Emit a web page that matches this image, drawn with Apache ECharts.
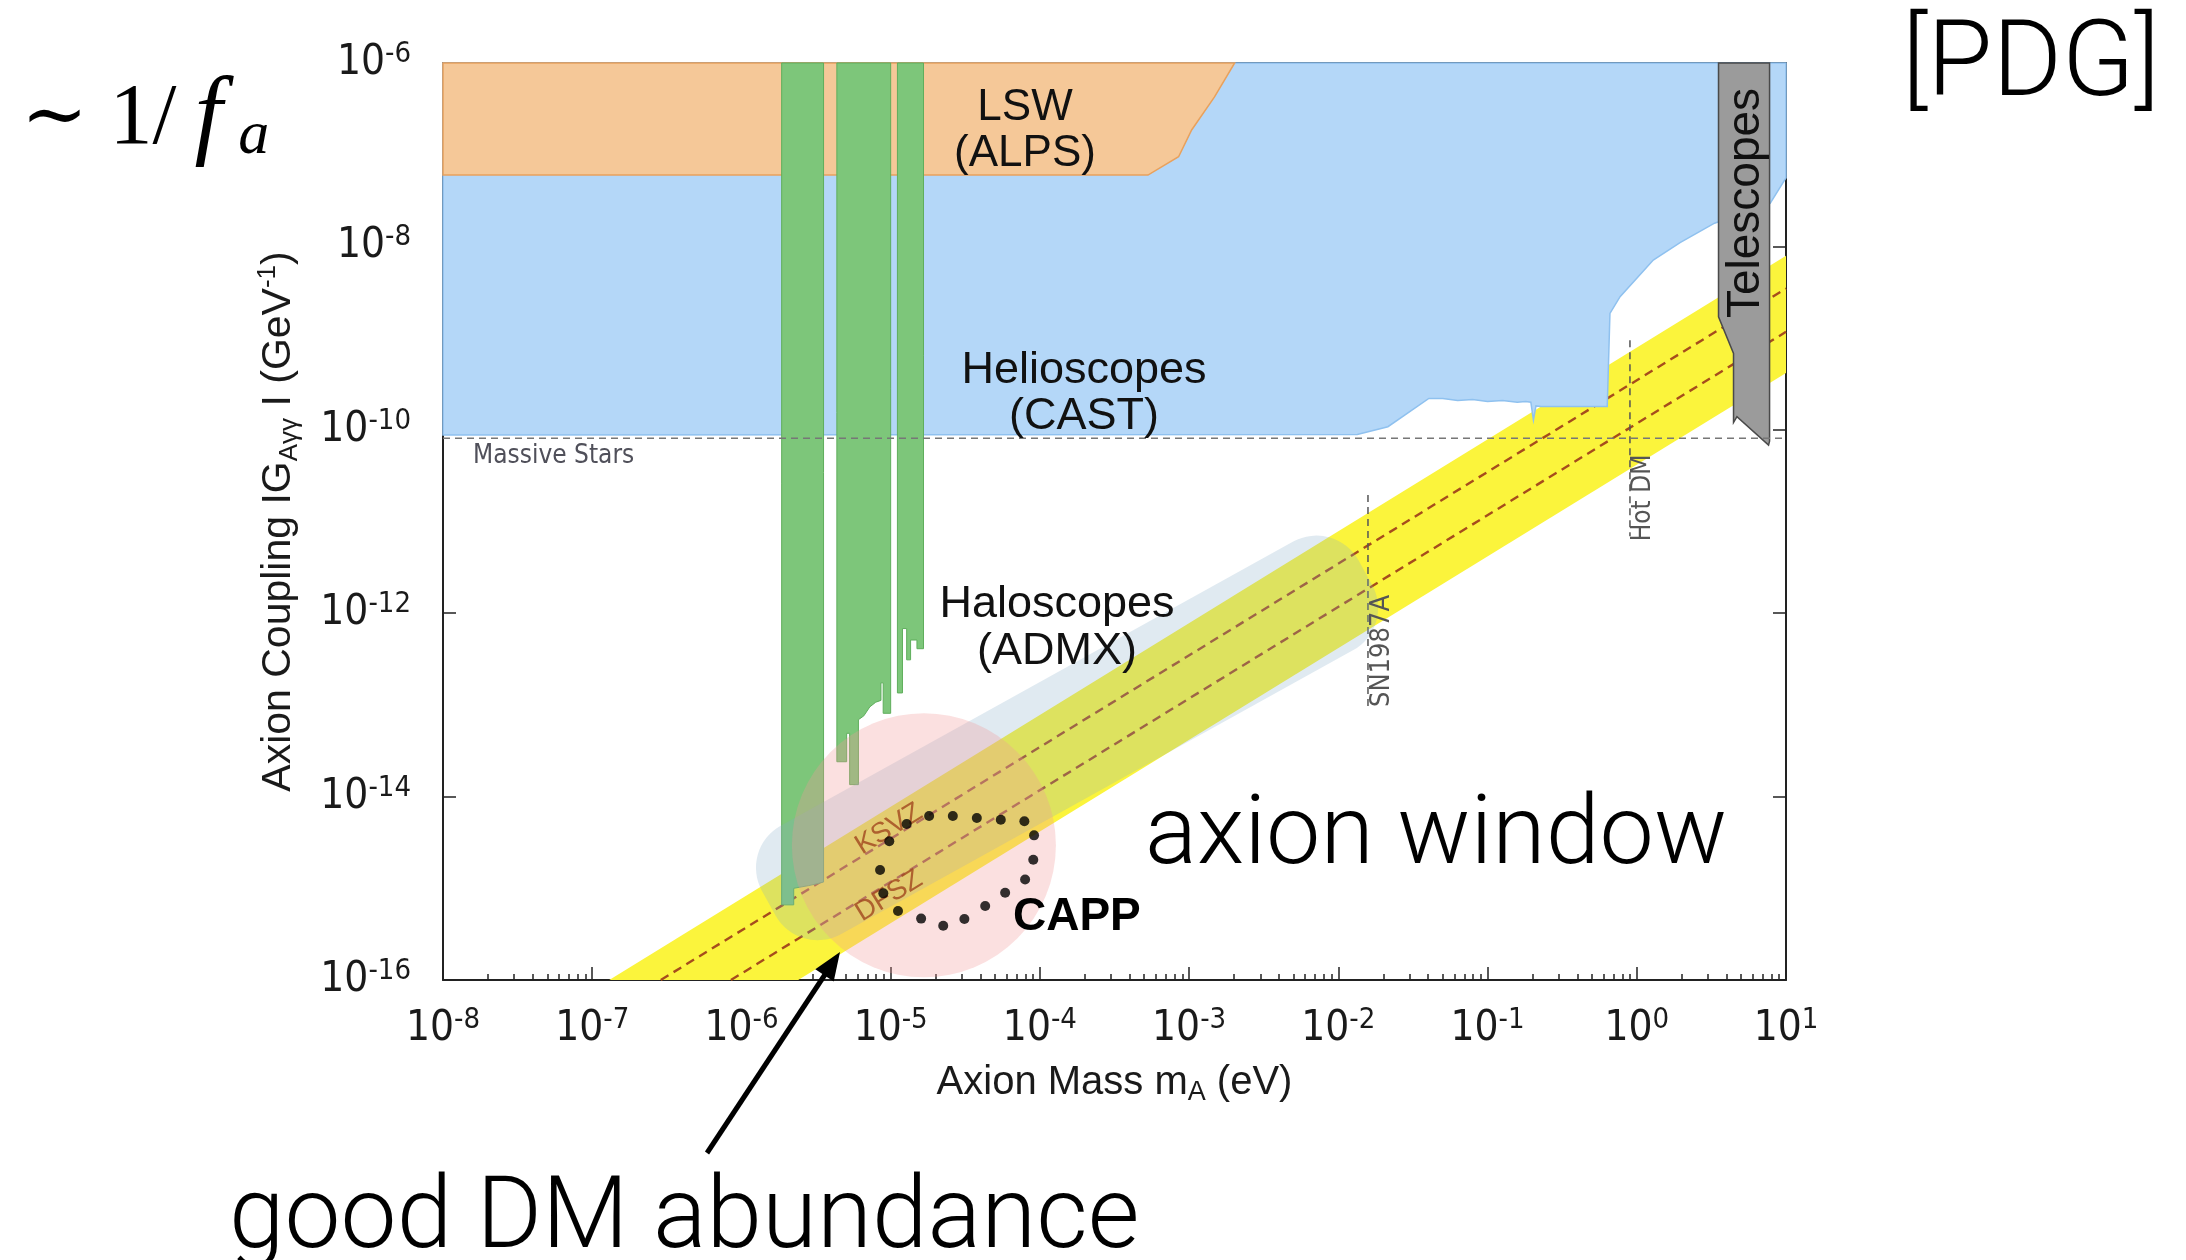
<!DOCTYPE html>
<html>
<head>
<meta charset="utf-8">
<script src="https://cdn.jsdelivr.net/npm/echarts@6/dist/echarts.min.js"></script>
<style>
html,body{margin:0;padding:0;background:#ffffff;}
#chart{width:2186px;height:1260px;}
</style>
</head>
<body>
<div id="chart"></div>
<script>
// ---------- data (axion mass in eV, coupling in GeV^-1) ----------
const xTickExponents = [-8, -7, -6, -5, -4, -3, -2, -1, 0, 1];
const yTickExponents = [-16, -14, -12, -10, -8, -6];

const lswRegion = [[1e-8,1e-6],[1e-8,6.0e-8],[5.3e-4,6.0e-8],[8.5e-4,9.5e-8],[1.04e-3,1.86e-7],[1.48e-3,4.27e-7],[2.02e-3,1e-6]];

const helioscopeRegion = [[1e-8,1e-6],[1e-8,8.8e-11],[0.0134,8.9e-11],[0.0215,1.08e-10],[0.0404,2.2e-10],[0.0501,2.19e-10],[0.0631,2.09e-10],[0.0794,2.14e-10],[0.1,2.04e-10],[0.126,2.09e-10],[0.158,2.0e-10],[0.18,2.03e-10],[0.195,2.0e-10],[0.203,1.28e-10],[0.211,1.82e-10],[0.228,1.79e-10],[0.634,1.79e-10],[0.661,1.86e-9],[0.773,2.83e-9],[1.29,7.1e-9],[1.95,1.1e-8],[3.32,1.79e-8],[7.83,2.95e-8],[10,5.6e-8],[10,1e-6]];

const haloscopeA = [[1.86e-6,1e-6],[1.86e-6,6.6e-16],[2.24e-6,6.6e-16],[2.24e-6,1.0e-15],[2.82e-6,1.07e-15],[3.2e-6,1.12e-15],[3.55e-6,1.17e-15],[3.55e-6,1e-6]];
const haloscopeB = [[4.36e-6,1e-6],[4.36e-6,2.4e-14],[5.07e-6,2.4e-14],[5.07e-6,4.9e-14],[5.31e-6,4.9e-14],[5.31e-6,1.35e-14],[6.08e-6,1.35e-14],[6.08e-6,6.9e-14],[6.61e-6,7.6e-14],[7.24e-6,9.5e-14],[7.94e-6,1.07e-13],[8.61e-6,1.12e-13],[8.61e-6,1.74e-13],[8.91e-6,1.74e-13],[8.91e-6,8.1e-14],[1.0e-5,8.1e-14],[1.0e-5,1e-6]];
const haloscopeC = [[1.11e-5,1e-6],[1.11e-5,1.35e-13],[1.2e-5,1.35e-13],[1.2e-5,6.8e-13],[1.28e-5,6.8e-13],[1.28e-5,3.1e-13],[1.36e-5,3.1e-13],[1.36e-5,5.1e-13],[1.5e-5,5.1e-13],[1.5e-5,4.1e-13],[1.66e-5,4.1e-13],[1.66e-5,1e-6]];

const telescopeRegion = [[3.53,1e-6],[3.53,1.71e-9],[4.45,6.8e-10],[4.45,1.2e-10],[4.69,1.39e-10],[7.64,6.8e-11],[7.76,7.5e-11],[7.76,1e-6]];

const axionBand = [[1.3e-7,1e-16],[10,7.9e-9],[10,4.17e-10],[2.4e-6,1e-16]];
const ksvzLine = [[2.88e-7,1e-16],[10,3.47e-9]];
const dfszLine = [[8.5e-7,1e-16],[10,1.17e-9]];

const massiveStarsLine = [[1e-8,8.07e-11],[10,8.07e-11]];
const sn1987aLine = [[0.0158,1.95e-11],[0.0158,8.8e-14]];
const hotDmLine = [[0.9,9.5e-10],[0.9,6.9e-12]];

const axionWindowCenter = [[1.52e-4,4.37e-14]];
const dmAbundanceCenter = [[1.67e-5,2.95e-15]];
const cappOutline = [[1.28e-5,5.02e-15],[1.81e-5,6.14e-15],[2.61e-5,6.14e-15],[3.78e-5,5.85e-15],[5.47e-5,5.6e-15],[7.87e-5,5.38e-15],[9.14e-5,3.78e-15],[9.03e-5,2.05e-15],[7.96e-5,1.25e-15],[5.85e-5,8.95e-16],[4.3e-5,6.41e-16],[3.12e-5,4.62e-16],[2.25e-5,3.91e-16],[1.6e-5,4.67e-16],[1.12e-5,5.65e-16],[8.93e-6,8.81e-16],[8.49e-6,1.58e-15],[9.79e-6,3.26e-15]];

// ---------- helpers ----------
const SANS = '"Liberation Sans", Arial, Helvetica, sans-serif';
const NARROW = '"Liberation Sans Narrow", "Arial Narrow", "DejaVu Sans Condensed", "Liberation Sans", sans-serif';
const LIGHT = 'Roboto, "Open Sans", Lato, sans-serif';
const SERIF = '"Liberation Serif", "DejaVu Serif", serif';
const toLog = pts => pts.map(p => [Math.log10(p[0]), Math.log10(p[1])]);

function polySeries(name, pts, style, z) {
  const data = toLog(pts);
  return {
    type: 'custom', name: name, z: z, silent: true, animation: false,
    data: data, encode: {x: 0, y: 1},
    renderItem: function (params, api) {
      if (params.dataIndex !== 0) return null;
      return {type: 'polygon', shape: {points: data.map(d => api.coord(d))}, style: style};
    }
  };
}
function lineSeries(name, pts, style, z) {
  const data = toLog(pts);
  return {
    type: 'custom', name: name, z: z, silent: true, animation: false,
    data: data, encode: {x: 0, y: 1},
    renderItem: function (params, api) {
      if (params.dataIndex !== 0) return null;
      return {type: 'polyline', shape: {points: data.map(d => api.coord(d))}, style: Object.assign({fill: null}, style)};
    }
  };
}

const minorX = [];
for (let n = -8; n < 1; n++) for (let k = 2; k <= 9; k++) minorX.push(n + Math.log10(k));

const labelRich = {
  b: {fontFamily: NARROW, fontSize: 42, color: '#1a1a1a', lineHeight: 46},
  s: {fontFamily: NARROW, fontSize: 29, color: '#1a1a1a', lineHeight: 16, verticalAlign: 'top'}
};
const tickStyle = {color: '#222', width: 1.5};
const lineStyle = {color: '#222', width: 2};

const green = {fill: '#7dc67a', stroke: '#5fae5c', lineWidth: 1};
const brownDash = {stroke: '#a64c1c', lineWidth: 2.4, lineDash: [9, 6]};

const series = [
  polySeries('Axion models', axionBand, {fill: '#fbf43c'}, 1),
  lineSeries('KSVZ', ksvzLine, brownDash, 2),
  lineSeries('DFSZ', dfszLine, brownDash, 2),
  polySeries('Helioscopes (CAST)', helioscopeRegion, {fill: '#b4d7f8', stroke: '#8fc1ef', lineWidth: 1.5}, 3),
  polySeries('LSW (ALPS)', lswRegion, {fill: '#f5c898', stroke: '#e9a15c', lineWidth: 1.5}, 4),
  polySeries('Haloscope 1', haloscopeA, green, 5),
  polySeries('Haloscope 2', haloscopeB, green, 5),
  polySeries('Haloscope 3', haloscopeC, green, 5),
  polySeries('Telescopes', telescopeRegion, {fill: '#9b9b9b', stroke: '#4a4a4a', lineWidth: 1.5}, 6),
  lineSeries('SN1987A', sn1987aLine, {stroke: '#555', lineWidth: 1.5, lineDash: [7, 5]}, 7),
  lineSeries('Hot DM', hotDmLine, {stroke: '#555', lineWidth: 1.5, lineDash: [7, 5]}, 7),
  lineSeries('Massive Stars', massiveStarsLine, {stroke: '#777', lineWidth: 1.5, lineDash: [7, 5]}, 7),
  {
    type: 'custom', name: 'axion window', z: 20, silent: true, animation: false,
    data: toLog(axionWindowCenter), encode: {x: 0, y: 1},
    renderItem: function (params, api) {
      const p = api.coord([api.value(0), api.value(1)]);
      return {type: 'rect', x: p[0], y: p[1], rotation: 29 * Math.PI / 180,
        shape: {x: -341, y: -62, width: 682, height: 124, r: 48},
        style: {fill: 'rgba(130,170,200,0.25)'}};
    }
  },
  {
    type: 'custom', name: 'good DM abundance', z: 21, silent: true, animation: false,
    data: toLog(dmAbundanceCenter), encode: {x: 0, y: 1},
    renderItem: function (params, api) {
      const p = api.coord([api.value(0), api.value(1)]);
      return {type: 'circle', shape: {cx: p[0], cy: p[1], r: 132}, style: {fill: 'rgba(242,152,152,0.3)'}};
    }
  },
  {
    type: 'scatter', name: 'CAPP', z: 30, silent: true, animation: false,
    data: toLog(cappOutline), symbol: 'circle', symbolSize: 10,
    itemStyle: {color: '#000'}
  }
];

const xBase = {type: 'value', min: -8, max: 1, splitLine: {show: false}};
const yBase = {type: 'value', min: -16, max: -6, interval: 2, splitLine: {show: false}};

const option = {
  animation: false,
  backgroundColor: '#ffffff',
  grid: {left: 443, right: 400, top: 63, bottom: 280, containLabel: false},
  xAxis: [
    Object.assign({}, xBase, {
      position: 'bottom', interval: 1,
      axisLine: {show: true, onZero: false, lineStyle: lineStyle},
      axisTick: {inside: true, length: 13, lineStyle: tickStyle},
      axisLabel: {margin: 26, showMinLabel: true, showMaxLabel: true, hideOverlap: false,
        formatter: v => '{b|10}{s|' + v + '}', rich: labelRich},
      name: '{t|Axion Mass m}{sub|A}{t| (eV)}', nameLocation: 'middle', nameGap: 80,
      nameTextStyle: {rich: {
        t: {fontFamily: SANS, fontSize: 40, color: '#1a1a1a', lineHeight: 46},
        sub: {fontFamily: SANS, fontSize: 27, color: '#1a1a1a', lineHeight: 20, verticalAlign: 'bottom'}
      }}
    }),
    Object.assign({}, xBase, {
      position: 'bottom',
      axisLine: {show: false, onZero: false},
      axisTick: {inside: true, length: 6, customValues: minorX, lineStyle: tickStyle},
      axisLabel: {show: false}
    }),
    Object.assign({}, xBase, {
      position: 'top', interval: 1,
      axisLine: {show: true, onZero: false, lineStyle: lineStyle},
      axisTick: {inside: true, length: 13, lineStyle: tickStyle},
      axisLabel: {show: false}
    }),
    Object.assign({}, xBase, {
      position: 'top',
      axisLine: {show: false, onZero: false},
      axisTick: {inside: true, length: 6, customValues: minorX, lineStyle: tickStyle},
      axisLabel: {show: false}
    })
  ],
  yAxis: [
    Object.assign({}, yBase, {
      position: 'left',
      axisLine: {show: true, onZero: false, lineStyle: lineStyle},
      axisTick: {inside: true, length: 13, lineStyle: tickStyle},
      axisLabel: {margin: 32, showMinLabel: true, showMaxLabel: true, hideOverlap: false,
        formatter: v => '{b|10}{s|' + v + '}', rich: labelRich},
      name: '{t|Axion Coupling IG}{sub|Aγγ}{t| I (GeV}{sup|-1}{t|)}',
      nameLocation: 'middle', nameRotate: 90, nameGap: 140,
      nameTextStyle: {rich: {
        t: {fontFamily: SANS, fontSize: 41, color: '#1a1a1a', lineHeight: 48},
        sub: {fontFamily: SANS, fontSize: 26, color: '#1a1a1a', lineHeight: 20, verticalAlign: 'bottom'},
        sup: {fontFamily: SANS, fontSize: 26, color: '#1a1a1a', lineHeight: 16, verticalAlign: 'top'}
      }}
    }),
    Object.assign({}, yBase, {
      position: 'right',
      axisLine: {show: true, onZero: false, lineStyle: lineStyle},
      axisTick: {inside: true, length: 13, lineStyle: tickStyle},
      axisLabel: {show: false}
    })
  ],
  series: series,
  graphic: [
    {type: 'text', x: 1025, y: 131, z: 40, silent: true,
      style: {text: 'LSW\n(ALPS)', font: '44px ' + SANS, fill: '#111', align: 'center', verticalAlign: 'middle', lineHeight: 46}},
    {type: 'text', x: 1084, y: 394, z: 40, silent: true,
      style: {text: 'Helioscopes\n(CAST)', font: '45px ' + SANS, fill: '#111', align: 'center', verticalAlign: 'middle', lineHeight: 46}},
    {type: 'text', x: 1057, y: 628, z: 40, silent: true,
      style: {text: 'Haloscopes\n(ADMX)', font: '45px ' + SANS, fill: '#111', align: 'center', verticalAlign: 'middle', lineHeight: 47}},
    {type: 'text', x: 473, y: 456, z: 40, silent: true,
      style: {text: 'Massive Stars', font: '26px ' + NARROW, fill: '#50505a', align: 'left', verticalAlign: 'middle'}},
    {type: 'text', x: 1746, y: 203, z: 40, rotation: Math.PI / 2, silent: true,
      style: {text: 'Telescopes', font: '46px ' + SANS, fill: '#111', align: 'center', verticalAlign: 'middle'}},
    {type: 'text', x: 1382, y: 651, z: 40, rotation: Math.PI / 2, silent: true,
      style: {text: 'SN1987A', font: '27px ' + NARROW, fill: '#555', align: 'center', verticalAlign: 'middle'}},
    {type: 'text', x: 1643, y: 498, z: 40, rotation: Math.PI / 2, silent: true,
      style: {text: 'Hot DM', font: '26px ' + NARROW, fill: '#555', align: 'center', verticalAlign: 'middle'}},
    {type: 'text', x: 889, y: 829, z: 25, rotation: 0.5515, silent: true,
      style: {text: 'KSVZ', font: '28px ' + SANS, fill: 'rgba(160,70,30,0.8)', align: 'center', verticalAlign: 'middle'}},
    {type: 'text', x: 889, y: 896, z: 25, rotation: 0.5515, silent: true,
      style: {text: 'DFSZ', font: '28px ' + SANS, fill: 'rgba(160,70,30,0.8)', align: 'center', verticalAlign: 'middle'}},
    {type: 'text', x: 1013, y: 917, z: 40, silent: true,
      style: {text: 'CAPP', font: 'bold 46px ' + SANS, fill: '#000', align: 'left', verticalAlign: 'middle'}},
    {type: 'text', x: 1145, y: 839, z: 40, silent: true,
      style: {text: 'axion window', font: '300 97px ' + LIGHT, fill: '#000', align: 'left', verticalAlign: 'middle'}},
    {type: 'text', x: 229, y: 1222, z: 40, silent: true,
      style: {text: 'good DM abundance', font: '300 100px ' + LIGHT, fill: '#000', align: 'left', verticalAlign: 'middle'}},
    {type: 'text', x: 2160, y: 68, z: 40, silent: true,
      style: {text: '[PDG]', font: '300 106px ' + LIGHT, fill: '#000', align: 'right', verticalAlign: 'middle'}},
    {type: 'text', x: 21, y: 120, z: 40, silent: true,
      style: {text: '{w|∼}{n| 1/}{i|f}{s|a}', align: 'left', verticalAlign: 'middle',
        rich: {
          w: {fontFamily: '"DejaVu Serif", serif', fontSize: 80, fill: '#000', lineHeight: 96},
          n: {fontFamily: SERIF, fontSize: 86, fill: '#000', lineHeight: 96},
          i: {fontFamily: SERIF, fontStyle: 'italic', fontSize: 100, fill: '#000', lineHeight: 96, padding: [0, 16, 0, 18]},
          s: {fontFamily: SERIF, fontStyle: 'italic', fontSize: 62, fill: '#000', lineHeight: 56, verticalAlign: 'bottom'}
        }}},
    {type: 'line', z: 50, silent: true, shape: {x1: 707, y1: 1153, x2: 826, y2: 973}, style: {stroke: '#000', lineWidth: 5}},
    {type: 'polygon', z: 50, silent: true, shape: {points: [[840, 952], [833.7, 981.5], [815.3, 969.3]]}, style: {fill: '#000'}}
  ]
};

const chart = echarts.init(document.getElementById('chart'), null, {renderer: 'canvas'});
chart.setOption(option);
</script>
</body>
</html>
